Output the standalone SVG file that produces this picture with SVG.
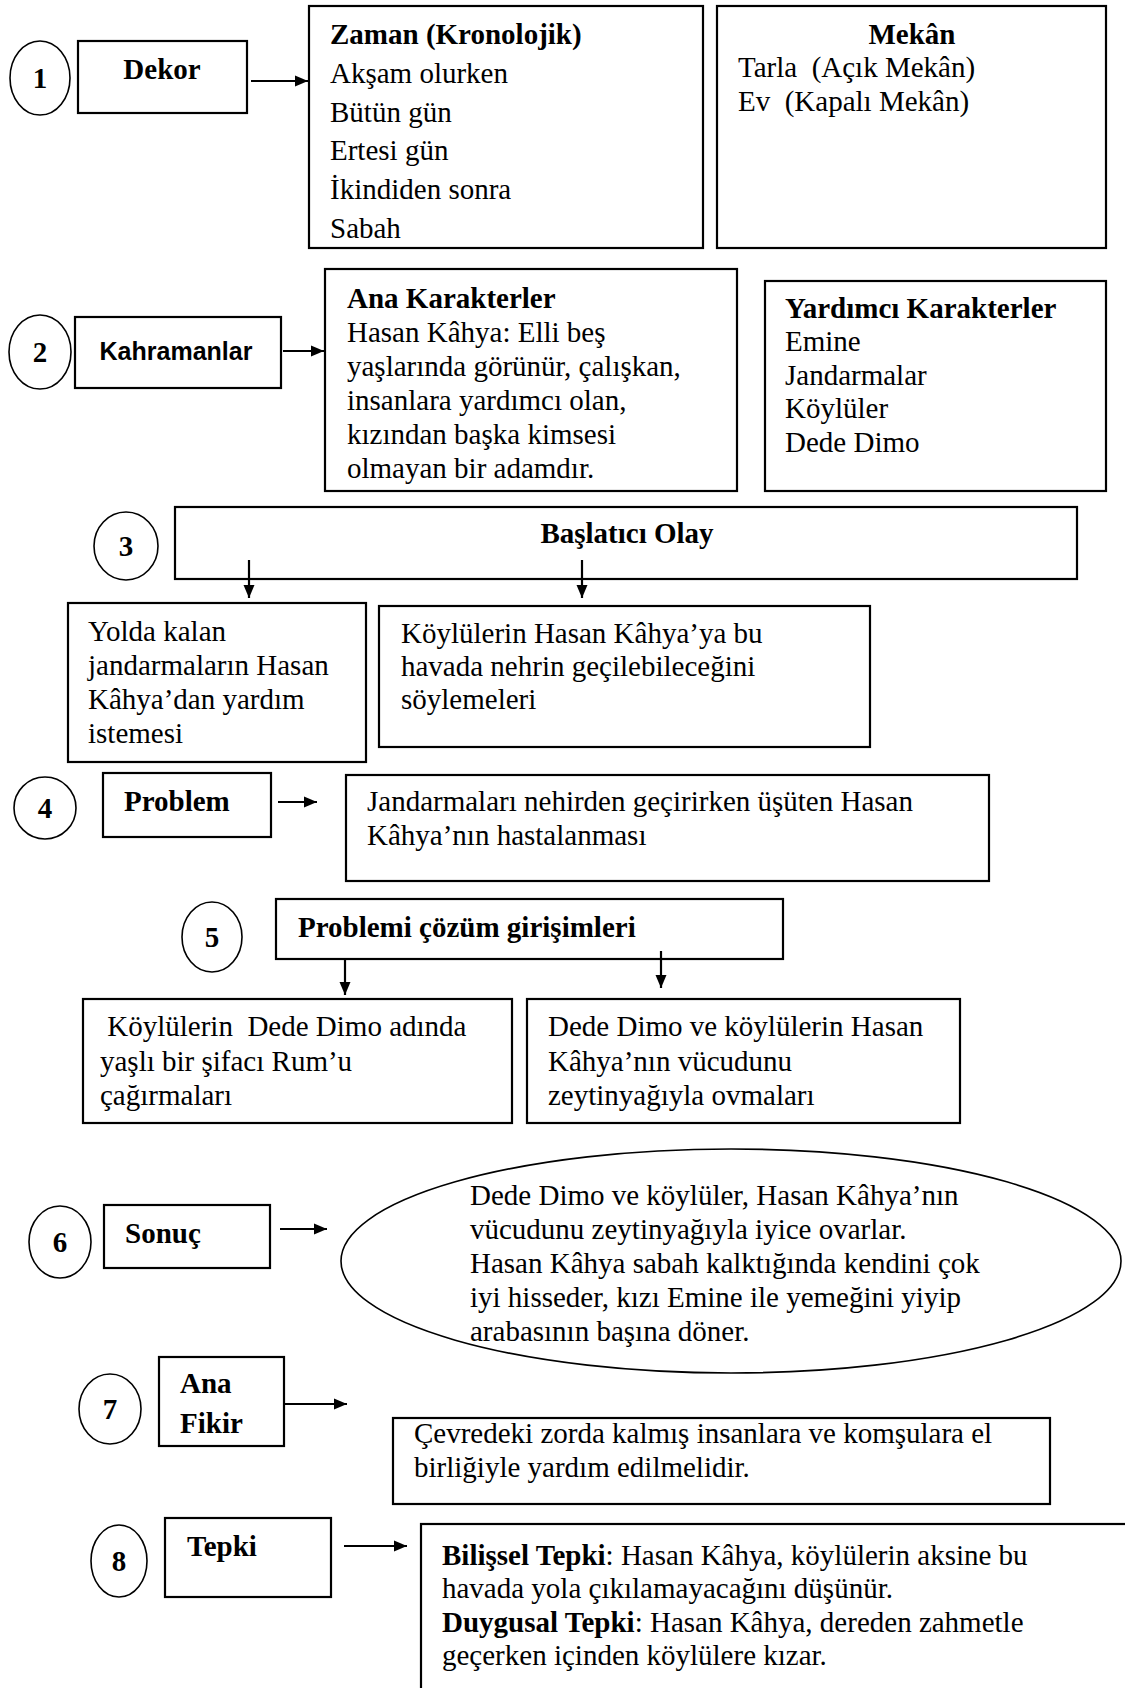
<svg xmlns="http://www.w3.org/2000/svg" width="1125" height="1688" viewBox="0 0 1125 1688">
<style>
  .box { fill: #fff; stroke: #000; stroke-width: 2.2; }
  .circ { fill: #fff; stroke: #000; stroke-width: 1.6; }
  .t { font-family: "Liberation Serif", "Times New Roman", serif; font-size: 29px; fill: #000; }
  .b { font-weight: bold; }
  .num { font-family: "Liberation Serif", "Times New Roman", serif; font-size: 29px; font-weight: bold; text-anchor: middle; }
  .mid { text-anchor: middle; }
  .sans { font-family: "Liberation Sans", Arial, sans-serif; font-size: 25px; font-weight: bold; text-anchor: middle; }
  .conn line { stroke: #000; stroke-width: 2.2; marker-end: url(#ah); }
</style>
<defs>
  <marker id="ah" markerUnits="userSpaceOnUse" markerWidth="14" markerHeight="14" refX="13" refY="7" orient="auto">
    <path d="M0,1.5 L13,7 L0,12.5 Z" fill="#000"/>
  </marker>
</defs>
<rect width="1125" height="1688" fill="#fff"/>

<!-- Row 1 -->
<g id="n1"><ellipse class="circ" cx="40" cy="78" rx="30" ry="37"/><text class="num" x="40" y="88">1</text></g>
<g id="dekor"><rect class="box" x="78" y="41" width="169" height="72"/><text class="t b mid" x="162" y="79">Dekor</text></g>
<g id="zaman"><rect class="box" x="309" y="6" width="394" height="242"/>
  <text class="t b" x="330" y="44">Zaman (Kronolojik)</text>
  <text class="t" x="330" y="83">Akşam olurken</text>
  <text class="t" x="330" y="122">Bütün gün</text>
  <text class="t" x="330" y="160">Ertesi gün</text>
  <text class="t" x="330" y="199">İkindiden sonra</text>
  <text class="t" x="330" y="238">Sabah</text>
</g>
<g id="mekan"><rect class="box" x="717" y="6" width="389" height="242"/>
  <text class="t b mid" x="912" y="44">Mekân</text>
  <text class="t" x="738" y="77" xml:space="preserve">Tarla  (Açık Mekân)</text>
  <text class="t" x="738" y="111" xml:space="preserve">Ev  (Kapalı Mekân)</text>
</g>

<!-- Row 2 -->
<g id="n2"><ellipse class="circ" cx="40" cy="352" rx="31" ry="37"/><text class="num" x="40" y="362">2</text></g>
<g id="kahramanlar"><rect class="box" x="75" y="317" width="206" height="71"/><text class="sans" x="176" y="360">Kahramanlar</text></g>
<g id="ana-karakterler"><rect class="box" x="325" y="269" width="412" height="222"/>
  <text class="t b" x="347" y="308">Ana Karakterler</text>
  <text class="t" x="347" y="342">Hasan Kâhya: Elli beş</text>
  <text class="t" x="347" y="376">yaşlarında görünür, çalışkan,</text>
  <text class="t" x="347" y="410">insanlara yardımcı olan,</text>
  <text class="t" x="347" y="444">kızından başka kimsesi</text>
  <text class="t" x="347" y="478">olmayan bir adamdır.</text>
</g>
<g id="yardimci"><rect class="box" x="765" y="281" width="341" height="210"/>
  <text class="t b" x="785" y="318">Yardımcı Karakterler</text>
  <text class="t" x="785" y="351">Emine</text>
  <text class="t" x="785" y="385">Jandarmalar</text>
  <text class="t" x="785" y="418">Köylüler</text>
  <text class="t" x="785" y="452">Dede Dimo</text>
</g>

<!-- Row 3 -->
<g id="n3"><ellipse class="circ" cx="126" cy="546" rx="32" ry="34"/><text class="num" x="126" y="556">3</text></g>
<g id="baslatici"><rect class="box" x="175" y="507" width="902" height="72"/><text class="t b mid" x="627" y="543">Başlatıcı Olay</text></g>
<g id="yolda"><rect class="box" x="68" y="603" width="298" height="159"/>
  <text class="t" x="88" y="641">Yolda kalan</text>
  <text class="t" x="88" y="675">jandarmaların Hasan</text>
  <text class="t" x="88" y="709">Kâhya’dan yardım</text>
  <text class="t" x="88" y="743">istemesi</text>
</g>
<g id="koyluler"><rect class="box" x="379" y="606" width="491" height="141"/>
  <text class="t" x="401" y="643">Köylülerin Hasan Kâhya’ya bu</text>
  <text class="t" x="401" y="676">havada nehrin geçilebileceğini</text>
  <text class="t" x="401" y="709">söylemeleri</text>
</g>

<!-- Row 4 -->
<g id="n4"><ellipse class="circ" cx="45" cy="808" rx="31" ry="31"/><text class="num" x="45" y="818">4</text></g>
<g id="problem"><rect class="box" x="103" y="773" width="168" height="64"/><text class="t b" x="124" y="811">Problem</text></g>
<g id="problem-text"><rect class="box" x="346" y="775" width="643" height="106"/>
  <text class="t" x="367" y="811">Jandarmaları nehirden geçirirken üşüten Hasan</text>
  <text class="t" x="367" y="845">Kâhya’nın hastalanması</text>
</g>

<!-- Row 5 -->
<g id="n5"><ellipse class="circ" cx="212" cy="937" rx="30" ry="35"/><text class="num" x="212" y="947">5</text></g>
<g id="cozum"><rect class="box" x="276" y="899" width="507" height="60"/><text class="t b" x="298" y="937">Problemi çözüm girişimleri</text></g>
<g id="cozum1"><rect class="box" x="83" y="999" width="429" height="124"/>
  <text class="t" x="100" y="1036" xml:space="preserve"> Köylülerin  Dede Dimo adında</text>
  <text class="t" x="100" y="1071">yaşlı bir şifacı Rum’u</text>
  <text class="t" x="100" y="1105">çağırmaları</text>
</g>
<g id="cozum2"><rect class="box" x="527" y="999" width="433" height="124"/>
  <text class="t" x="548" y="1036">Dede Dimo ve köylülerin Hasan</text>
  <text class="t" x="548" y="1071">Kâhya’nın vücudunu</text>
  <text class="t" x="548" y="1105">zeytinyağıyla ovmaları</text>
</g>

<!-- Row 6 -->
<g id="n6"><ellipse class="circ" cx="60" cy="1242" rx="31" ry="36"/><text class="num" x="60" y="1252">6</text></g>
<g id="sonuc"><rect class="box" x="104" y="1205" width="166" height="63"/><text class="t b" x="125" y="1243">Sonuç</text></g>
<g id="sonuc-text"><ellipse class="circ" cx="731" cy="1261" rx="390" ry="112"/>
  <text class="t" x="470" y="1205">Dede Dimo ve köylüler, Hasan Kâhya’nın</text>
  <text class="t" x="470" y="1239">vücudunu zeytinyağıyla iyice ovarlar.</text>
  <text class="t" x="470" y="1273">Hasan Kâhya sabah kalktığında kendini çok</text>
  <text class="t" x="470" y="1307">iyi hisseder, kızı Emine ile yemeğini yiyip</text>
  <text class="t" x="470" y="1341">arabasının başına döner.</text>
</g>

<!-- Row 7 -->
<g id="n7"><ellipse class="circ" cx="110" cy="1409" rx="31" ry="35"/><text class="num" x="110" y="1419">7</text></g>
<g id="ana-fikir"><rect class="box" x="159" y="1357" width="125" height="89"/>
  <text class="t b" x="180" y="1393">Ana</text>
  <text class="t b" x="180" y="1433">Fikir</text>
</g>
<g id="fikir-text"><rect class="box" x="393" y="1418" width="657" height="86"/>
  <text class="t" x="414" y="1443">Çevredeki zorda kalmış insanlara ve komşulara el</text>
  <text class="t" x="414" y="1477">birliğiyle yardım edilmelidir.</text>
</g>

<!-- Row 8 -->
<g id="n8"><ellipse class="circ" cx="119" cy="1561" rx="28" ry="36"/><text class="num" x="119" y="1571">8</text></g>
<g id="tepki"><rect class="box" x="165" y="1518" width="166" height="79"/><text class="t b" x="187" y="1556">Tepki</text></g>
<g id="tepki-text"><rect class="box" x="421" y="1524" width="760" height="220"/>
  <text class="t" x="442" y="1565"><tspan class="b">Bilişsel Tepki</tspan>: Hasan Kâhya, köylülerin aksine bu</text>
  <text class="t" x="442" y="1598">havada yola çıkılamayacağını düşünür.</text>
  <text class="t" x="442" y="1632"><tspan class="b">Duygusal Tepki</tspan>: Hasan Kâhya, dereden zahmetle</text>
  <text class="t" x="442" y="1665">geçerken içinden köylülere kızar.</text>
</g>

<!-- Connectors -->
<g id="connectors" class="conn">
  <line x1="251" y1="81" x2="308" y2="81"/>
  <line x1="283" y1="351" x2="324" y2="351"/>
  <line x1="278" y1="802" x2="317" y2="802"/>
  <line x1="280" y1="1229" x2="327" y2="1229"/>
  <line x1="285" y1="1404" x2="347" y2="1404"/>
  <line x1="344" y1="1546" x2="407" y2="1546"/>
  <line x1="249" y1="560" x2="249" y2="598"/>
  <line x1="582" y1="560" x2="582" y2="598"/>
  <line x1="345" y1="959" x2="345" y2="995"/>
  <line x1="661" y1="951" x2="661" y2="988"/>
</g>
</svg>
